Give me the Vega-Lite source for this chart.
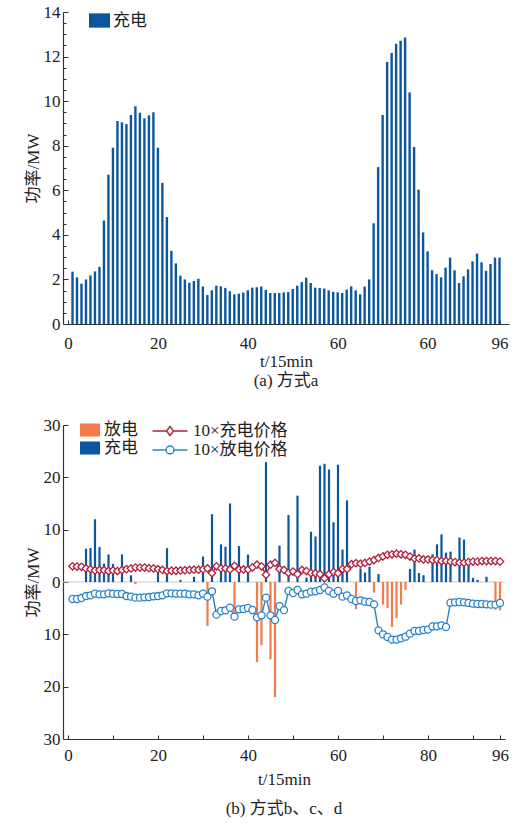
{
  "$schema": "https://vega.github.io/schema/vega-lite/v6.json",
  "background": "white",
  "padding": {"left": 24, "top": 3, "right": 5, "bottom": 5},
  "spacing": 27,
  "config": {
    "font": "'Liberation Serif', 'Noto Sans CJK SC', serif",
    "view": {"stroke": null},
    "axis": {"labelFont": "'Liberation Serif', 'Noto Sans CJK SC', serif", "labelFontSize": 17, "titleFont": "'Liberation Serif', 'Noto Sans CJK SC', serif", "titleFontSize": 17, "titleFontWeight": "normal", "labelColor": "#222", "titleColor": "#222", "domainColor": "#333", "tickColor": "#333", "grid": false, "domainWidth": 1.2, "tickWidth": 1, "labelOverlap": false, "labelFlush": false},
    "legend": {"labelFont": "'Liberation Serif', 'Noto Sans CJK SC', serif", "labelFontSize": 17, "labelColor": "#222", "padding": 0, "rowPadding": 0, "offset": 0},
    "title": {"font": "'Liberation Serif', 'Noto Sans CJK SC', serif", "fontSize": 17, "fontWeight": "normal", "color": "#222"}
  },
  "resolve": {"scale": {"color": "independent", "stroke": "independent", "x": "independent", "y": "independent"}, "legend": {"color": "independent", "stroke": "independent"}},
  "datasets": {
    "a": [
      {"t":1,"v":2.35},{"t":2,"v":2.09},{"t":3,"v":1.81},{"t":4,"v":2.0},{"t":5,"v":2.18},{"t":6,"v":2.36},{"t":7,"v":2.56},{"t":8,"v":4.64},{"t":9,"v":6.7},{"t":10,"v":7.91},
      {"t":11,"v":9.11},{"t":12,"v":9.05},{"t":13,"v":8.97},{"t":14,"v":9.38},{"t":15,"v":9.77},{"t":16,"v":9.48},{"t":17,"v":9.23},{"t":18,"v":9.36},{"t":19,"v":9.5},{"t":20,"v":7.91},
      {"t":21,"v":6.33},{"t":22,"v":4.8},{"t":23,"v":3.28},{"t":24,"v":2.72},{"t":25,"v":2.17},{"t":26,"v":2.0},{"t":27,"v":1.85},{"t":28,"v":1.93},{"t":29,"v":2.03},{"t":30,"v":1.68},
      {"t":31,"v":1.3},{"t":32,"v":1.51},{"t":33,"v":1.72},{"t":34,"v":1.69},{"t":35,"v":1.62},{"t":36,"v":1.47},{"t":37,"v":1.33},{"t":38,"v":1.36},{"t":39,"v":1.41},{"t":40,"v":1.51},
      {"t":41,"v":1.63},{"t":42,"v":1.65},{"t":43,"v":1.68},{"t":44,"v":1.53},{"t":45,"v":1.39},{"t":46,"v":1.39},{"t":47,"v":1.39},{"t":48,"v":1.42},{"t":49,"v":1.44},{"t":50,"v":1.57},
      {"t":51,"v":1.72},{"t":52,"v":1.88},{"t":53,"v":2.08},{"t":54,"v":1.84},{"t":55,"v":1.63},{"t":56,"v":1.62},{"t":57,"v":1.59},{"t":58,"v":1.51},{"t":59,"v":1.44},{"t":60,"v":1.42},
      {"t":61,"v":1.39},{"t":62,"v":1.54},{"t":63,"v":1.69},{"t":64,"v":1.51},{"t":65,"v":1.33},{"t":66,"v":1.68},{"t":67,"v":2.0},{"t":68,"v":4.52},{"t":69,"v":7.04},{"t":70,"v":9.38},
      {"t":71,"v":11.76},{"t":72,"v":12.16},{"t":73,"v":12.58},{"t":74,"v":12.71},{"t":75,"v":12.86},{"t":76,"v":10.39},{"t":77,"v":7.94},{"t":78,"v":6.03},{"t":79,"v":4.11},{"t":80,"v":3.26},
      {"t":81,"v":2.41},{"t":82,"v":2.24},{"t":83,"v":2.09},{"t":84,"v":2.53},{"t":85,"v":2.98},{"t":86,"v":2.41},{"t":87,"v":1.84},{"t":88,"v":2.14},{"t":89,"v":2.45},{"t":90,"v":2.81},
      {"t":91,"v":3.16},{"t":92,"v":2.77},{"t":93,"v":2.39},{"t":94,"v":2.69},{"t":95,"v":2.98},{"t":96,"v":2.98}
    ],
    "bars": [
      {"t":4,"type":"充电","v":6.35},{"t":5,"type":"充电","v":6.5},{"t":6,"type":"充电","v":12.0},{"t":7,"type":"充电","v":6.67},{"t":8,"type":"充电","v":3.5},
      {"t":9,"type":"充电","v":5.26},{"t":10,"type":"充电","v":3.46},{"t":12,"type":"充电","v":5.26},{"t":14,"type":"充电","v":1.28},{"t":20,"type":"充电","v":1.9},
      {"t":22,"type":"充电","v":6.47},{"t":25,"type":"充电","v":0.4},{"t":28,"type":"充电","v":1.0},{"t":30,"type":"充电","v":4.87},{"t":32,"type":"充电","v":12.95},
      {"t":34,"type":"充电","v":7.18},{"t":35,"type":"充电","v":6.73},{"t":36,"type":"充电","v":15.0},{"t":38,"type":"充电","v":6.86},{"t":40,"type":"充电","v":5.26},
      {"t":44,"type":"充电","v":22.9},{"t":47,"type":"充电","v":6.95},{"t":49,"type":"充电","v":12.8},{"t":51,"type":"充电","v":16.5},{"t":53,"type":"充电","v":0.83},
      {"t":54,"type":"充电","v":9.6},{"t":55,"type":"充电","v":8.7},{"t":56,"type":"充电","v":22.2},{"t":57,"type":"充电","v":22.6},{"t":58,"type":"充电","v":21.5},
      {"t":59,"type":"充电","v":11.4},{"t":60,"type":"充电","v":22.4},{"t":61,"type":"充电","v":6.2},{"t":62,"type":"充电","v":15.6},{"t":65,"type":"充电","v":2.6},
      {"t":66,"type":"充电","v":1.8},{"t":67,"type":"充电","v":2.9},{"t":69,"type":"充电","v":1.5},{"t":76,"type":"充电","v":2.5},{"t":77,"type":"充电","v":6.2},
      {"t":78,"type":"充电","v":1.7},{"t":79,"type":"充电","v":1.3},{"t":81,"type":"充电","v":5.3},{"t":82,"type":"充电","v":7.2},{"t":83,"type":"充电","v":9.1},
      {"t":84,"type":"充电","v":5.6},{"t":85,"type":"充电","v":5.8},{"t":87,"type":"充电","v":8.5},{"t":88,"type":"充电","v":8.1},{"t":89,"type":"充电","v":4.5},
      {"t":90,"type":"充电","v":0.8},{"t":91,"type":"充电","v":0.4},{"t":93,"type":"充电","v":1.0},
      {"t":15,"type":"放电","v":-0.4},{"t":31,"type":"放电","v":-8.4},{"t":37,"type":"放电","v":-5.9},{"t":42,"type":"放电","v":-15.3},{"t":43,"type":"放电","v":-12.1},
      {"t":45,"type":"放电","v":-14.8},{"t":46,"type":"放电","v":-22.0},{"t":64,"type":"放电","v":-5.2},{"t":68,"type":"放电","v":-2.0},{"t":70,"type":"放电","v":-4.3},
      {"t":71,"type":"放电","v":-5.0},{"t":72,"type":"放电","v":-8.6},{"t":73,"type":"放电","v":-6.9},{"t":74,"type":"放电","v":-4.3},{"t":75,"type":"放电","v":-1.5},
      {"t":95,"type":"放电","v":-5.3},{"t":96,"type":"放电","v":-5.4}
    ],
    "price": [
      {"t":1,"c":3.0,"d":-3.25},{"t":2,"c":2.95,"d":-3.25},{"t":3,"c":2.9,"d":-3.06},{"t":4,"c":2.6,"d":-2.68},{"t":5,"c":2.45,"d":-2.55},
      {"t":6,"c":2.2,"d":-2.23},{"t":7,"c":2.3,"d":-2.36},{"t":8,"c":2.25,"d":-2.36},{"t":9,"c":2.1,"d":-2.17},{"t":10,"c":2.2,"d":-2.23},
      {"t":11,"c":2.1,"d":-2.29},{"t":12,"c":2.3,"d":-2.29},{"t":13,"c":2.45,"d":-2.68},{"t":14,"c":2.6,"d":-2.8},{"t":15,"c":2.75,"d":-2.99},
      {"t":16,"c":2.75,"d":-2.99},{"t":17,"c":2.75,"d":-2.93},{"t":18,"c":2.65,"d":-2.87},{"t":19,"c":2.6,"d":-2.74},{"t":20,"c":2.45,"d":-2.68},
      {"t":21,"c":2.3,"d":-2.55},{"t":22,"c":2.1,"d":-2.17},{"t":23,"c":2.15,"d":-2.17},{"t":24,"c":2.15,"d":-2.23},{"t":25,"c":2.2,"d":-2.23},
      {"t":26,"c":2.25,"d":-2.23},{"t":27,"c":2.3,"d":-2.36},{"t":28,"c":2.35,"d":-2.36},{"t":29,"c":2.35,"d":-2.55},{"t":30,"c":2.45,"d":-2.23},
      {"t":31,"c":2.6,"d":-2.8},{"t":32,"c":1.7,"d":-1.78},{"t":33,"c":3.0,"d":-6.24},{"t":34,"c":2.6,"d":-5.54},{"t":35,"c":2.6,"d":-5.41},
      {"t":36,"c":2.4,"d":-4.9},{"t":37,"c":3.1,"d":-6.62},{"t":38,"c":2.4,"d":-5.22},{"t":39,"c":2.4,"d":-5.16},{"t":40,"c":2.4,"d":-4.97},
      {"t":41,"c":2.8,"d":-5.35},{"t":42,"c":3.3,"d":-6.75},{"t":43,"c":3.0,"d":-6.37},{"t":44,"c":1.4,"d":-2.99},{"t":45,"c":3.3,"d":-6.37},
      {"t":46,"c":3.65,"d":-7.26},{"t":47,"c":2.5,"d":-4.6},{"t":48,"c":2.3,"d":-5.38},{"t":49,"c":1.75,"d":-1.72},{"t":50,"c":2.0,"d":-2.1},
      {"t":51,"c":1.5,"d":-1.53},{"t":52,"c":2.3,"d":-2.36},{"t":53,"c":2.1,"d":-2.23},{"t":54,"c":1.7,"d":-1.85},{"t":55,"c":1.67,"d":-1.78},
      {"t":56,"c":1.5,"d":-1.53},{"t":57,"c":0.7,"d":-1.02},{"t":58,"c":1.5,"d":-1.72},{"t":59,"c":1.9,"d":-2.23},{"t":60,"c":1.67,"d":-1.72},
      {"t":61,"c":2.5,"d":-2.8},{"t":62,"c":2.5,"d":-2.55},{"t":63,"c":3.4,"d":-3.25},{"t":64,"c":3.6,"d":-3.63},{"t":65,"c":3.5,"d":-3.5},
      {"t":66,"c":3.65,"d":-3.76},{"t":67,"c":3.9,"d":-3.82},{"t":68,"c":4.2,"d":-4.27},{"t":69,"c":4.6,"d":-9.24},{"t":70,"c":4.9,"d":-10.0},
      {"t":71,"c":5.2,"d":-10.5},{"t":72,"c":5.3,"d":-11.0},{"t":73,"c":5.4,"d":-11.0},{"t":74,"c":5.3,"d":-10.76},{"t":75,"c":5.2,"d":-10.45},
      {"t":76,"c":4.85,"d":-9.87},{"t":77,"c":4.5,"d":-9.36},{"t":78,"c":4.5,"d":-9.36},{"t":79,"c":4.3,"d":-9.17},{"t":80,"c":4.3,"d":-9.1},
      {"t":81,"c":4.2,"d":-8.5},{"t":82,"c":4.2,"d":-8.47},{"t":83,"c":4.0,"d":-8.28},{"t":84,"c":4.0,"d":-8.6},{"t":85,"c":3.9,"d":-3.95},
      {"t":86,"c":3.8,"d":-3.89},{"t":87,"c":3.7,"d":-3.82},{"t":88,"c":3.7,"d":-3.89},{"t":89,"c":3.8,"d":-4.0},{"t":90,"c":3.9,"d":-4.14},
      {"t":91,"c":3.9,"d":-4.2},{"t":92,"c":4.0,"d":-4.2},{"t":93,"c":4.0,"d":-4.27},{"t":94,"c":4.0,"d":-4.33},{"t":95,"c":4.0,"d":-4.33},
      {"t":96,"c":3.9,"d":-4.0}
    ]
  },
  "vconcat": [
    {
      "width": 446,
      "height": 312,
      "data": {"name": "a"},
      "title": {"text": "(a) 方式a", "orient": "bottom", "offset": 4, "anchor": "middle"},
      "mark": {"type": "bar", "size": 2.4},
      "encoding": {
        "x": {"field": "t", "type": "quantitative", "title": "t/15min",
          "scale": {"domain": [0, 97], "nice": false, "zero": false},
          "axis": {"values": [0,5,10,15,20,25,30,35,40,45,50,55,60,65,70,75,80,85,90,95,96],
            "labelExpr": "datum.value === 0 ? '0' : datum.value === 20 ? '20' : datum.value === 40 ? '40' : datum.value === 60 ? '60' : datum.value === 80 ? '60' : datum.value === 96 ? '96' : ''",
            "tickSize": -4, "labelPadding": 15, "titlePadding": 2}},
        "y": {"field": "v", "type": "quantitative", "title": "功率/MW",
          "scale": {"domain": [0, 14], "nice": false},
          "axis": {"values": [0,0.5,1,1.5,2,2.5,3,3.5,4,4.5,5,5.5,6,6.5,7,7.5,8,8.5,9,9.5,10,10.5,11,11.5,12,12.5,13,13.5,14],
            "labelExpr": "datum.value % 2 === 0 ? format(datum.value, 'd') : ''",
            "tickSize": {"condition": {"test": "datum.value % 2 === 0", "value": -5}, "value": -3},
            "labelPadding": 8, "titlePadding": 1}},
        "color": {"datum": "充电", "type": "nominal",
          "scale": {"domain": ["充电"], "range": ["#0a57a0"]},
          "legend": {"orient": "none", "legendX": 26, "legendY": -2, "title": null,
            "symbolType": "M-1,-0.68H1V0.68H-1Z", "symbolSize": 441, "symbolStrokeWidth": 0, "labelOffset": 3}}
      }
    },
    {
      "width": 442,
      "height": 314,
      "title": {"text": "(b) 方式b、c、d", "orient": "bottom", "offset": 14, "anchor": "middle"},
      "resolve": {"legend": {"color": "independent", "stroke": "independent"}},
      "layer": [
        {
          "data": {"values": [{}]},
          "mark": {"type": "rule", "color": "#c8c8c8", "strokeWidth": 1},
          "encoding": {"y": {"datum": 0, "type": "quantitative"}}
        },
        {
          "data": {"name": "bars"},
          "mark": {"type": "bar", "size": 2.2},
          "encoding": {
            "x": {"field": "t", "type": "quantitative", "title": "t/15min",
              "scale": {"domain": [0, 96], "nice": false, "zero": false},
              "axis": {"values": [0,5,10,15,20,25,30,35,40,45,50,55,60,65,70,75,80,85,90,95,96],
                "labelExpr": "datum.value === 0 || datum.value === 20 || datum.value === 40 || datum.value === 60 || datum.value === 80 || datum.value === 96 ? format(datum.value, 'd') : ''",
                "tickSize": -4, "labelPadding": 12, "titlePadding": 8}},
            "y": {"field": "v", "type": "quantitative", "title": "功率/MW",
              "scale": {"domain": [-30, 30], "nice": false},
              "axis": {"values": [-30,-27.5,-25,-22.5,-20,-17.5,-15,-12.5,-10,-7.5,-5,-2.5,0,2.5,5,7.5,10,12.5,15,17.5,20,22.5,25,27.5,30],
                "labelExpr": "datum.value % 10 === 0 ? format(abs(datum.value), 'd') : ''",
                "tickSize": {"condition": {"test": "datum.value % 10 === 0", "value": -5}, "value": -3},
                "labelPadding": 8, "titlePadding": 1}},
            "color": {"field": "type", "type": "nominal",
              "scale": {"domain": ["放电", "充电"], "range": ["#f47b4b", "#0a57a0"]},
              "legend": {"orient": "none", "legendX": 17, "legendY": -5, "title": null,
                "symbolType": "M-1,-0.65H1V0.65H-1Z", "symbolSize": 400, "symbolStrokeWidth": 0, "labelOffset": 4}}
          }
        },
        {
          "data": {"name": "price"},
          "transform": [{"fold": ["c", "d"], "as": ["s", "v"]}],
          "mark": {"type": "line", "strokeWidth": 1.4},
          "encoding": {
            "x": {"field": "t", "type": "quantitative"},
            "y": {"field": "v", "type": "quantitative"},
            "stroke": {"field": "s", "type": "nominal", "scale": {"domain": ["c", "d"], "range": ["#b01f3c", "#2a80c8"]},
              "legend": {"orient": "none", "legendX": 96, "legendY": -5, "title": null,
                "symbolSize": 400, "labelOffset": 12, "symbolStrokeWidth": 1.4,
                "labelExpr": "datum.value === 'c' ? '10×充电价格' : '10×放电价格'",
                "encode": {"symbols": {"update": {
                  "shape": [{"test": "datum.value === 'c'", "value": "M-1.75,0H-0.35M0.35,0H1.75M0,-0.45L0.35,0L0,0.45L-0.35,0Z"}, {"value": "M-1.75,0H-0.4M0.4,0H1.75M0.4,0A0.4,0.4,0,1,1,-0.4,0A0.4,0.4,0,1,1,0.4,0Z"}],
                  "fill": {"value": "white"},
                  "fillOpacity": {"value": 1},
                  "opacity": {"value": 1},
                  "strokeWidth": {"value": 1.4}
                }}}}}
          }
        },
        {
          "data": {"name": "price"},
          "transform": [{"fold": ["c", "d"], "as": ["s", "v"]}, {"filter": "datum.s === 'c'"}],
          "mark": {"type": "point", "shape": "diamond", "size": 55, "filled": true, "fill": "white", "stroke": "#b01f3c", "strokeWidth": 1.3, "opacity": 1},
          "encoding": {"x": {"field": "t", "type": "quantitative"}, "y": {"field": "v", "type": "quantitative"}}
        },
        {
          "data": {"name": "price"},
          "transform": [{"fold": ["c", "d"], "as": ["s", "v"]}, {"filter": "datum.s === 'd'"}],
          "mark": {"type": "point", "shape": "circle", "size": 50, "filled": true, "fill": "white", "stroke": "#2a80c8", "strokeWidth": 1.3, "opacity": 1},
          "encoding": {"x": {"field": "t", "type": "quantitative"}, "y": {"field": "v", "type": "quantitative"}}
        }
      ]
    }
  ]
}
